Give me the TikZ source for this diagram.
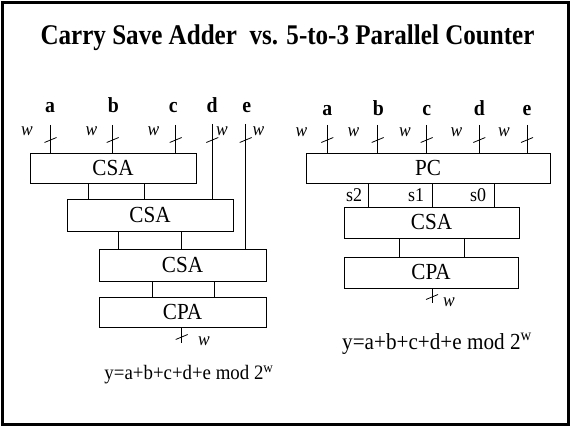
\documentclass[tikz,border=0pt]{standalone}
\usepackage{fontspec}
\setmainfont{Liberation Serif}[FakeStretch=0.92]
\newfontfamily\titlefont{Liberation Serif}[FakeStretch=0.88]
\usetikzlibrary{calc}
\begin{document}
\begin{tikzpicture}[x=1pt,y=-1pt,
  blk/.style={draw,line width=0.8pt,inner sep=0pt,font=\fontsize{23}{23}\selectfont},
  wire/.style={line width=0.8pt},
  lab/.style={font=\bfseries\fontsize{21.5}{21.5}\selectfont,anchor=base,inner sep=0pt},
  wl/.style={font=\itshape\fontsize{19}{19}\selectfont,anchor=base,inner sep=0pt},
  sl/.style={font=\fontsize{19.5}{19.5}\selectfont,anchor=base,inner sep=0pt},
  wtick/.pic={\draw[line width=0.8pt] (-6,2.5) -- (6,-2.5);}]
\useasboundingbox (0,0) rectangle (571,427);
\draw[line width=3pt] (2.5,2.5) rectangle (568.5,424.5);
\node[font=\titlefont\bfseries\fontsize{28.5}{28.5}\selectfont,anchor=base,inner sep=0pt] (title) at (287.5,45) {Carry Save Adder\ \ vs. 5-to-3 Parallel Counter};

% ---------- left: CSA tree ----------
\node[blk,minimum width=166,minimum height=30] (csa1) at (113,168) {CSA};
\node[blk,minimum width=166,minimum height=32] (csa2) at (150,215) {CSA};
\node[blk,minimum width=167,minimum height=32] (csa3) at (182.5,265) {CSA};
\node[blk,minimum width=167,minimum height=30] (cpa1) at (182.5,312) {CPA};

\coordinate (ty) at (0,140);
\coordinate (ia) at (50.5,125);
\coordinate (ib) at (112.7,125);
\coordinate (ic) at (175.7,125);
\coordinate (id) at (212.3,124);
\coordinate (ie) at (245.7,124);
\draw[wire] (ia) -- (ia |- csa1.north);
\draw[wire] (ib) -- (ib |- csa1.north);
\draw[wire] (ic) -- (ic |- csa1.north);
\draw[wire] (id) -- (id |- csa2.north);
\draw[wire] (ie) -- (ie |- csa3.north);
\foreach \p in {ia,ib,ic,id,ie} \path (\p |- ty) pic {wtick};

\node[lab] (la) at (50,113) {a};
\node[lab] (lb) at (113.3,113) {b};
\node[lab] (lc) at (173.3,113) {c};
\node[lab] (ld) at (212,113) {d};
\node[lab] (le) at (246.7,113) {e};
\node[wl] (wa) at (27,136) {w};
\node[wl] (wb) at (91.5,136) {w};
\node[wl] (wc) at (153.5,136) {w};
\node[wl] (wd) at (222,136) {w};
\node[wl] (we) at (258.5,136) {w};

\coordinate (c1) at (88,0);
\coordinate (c2) at (144,0);
\coordinate (c3) at (118,0);
\coordinate (c4) at (181,0);
\coordinate (c5) at (152,0);
\coordinate (c6) at (214,0);
\draw[wire] (csa1.south -| c1) -- (csa2.north -| c1);
\draw[wire] (csa1.south -| c2) -- (csa2.north -| c2);
\draw[wire] (csa2.south -| c3) -- (csa3.north -| c3);
\draw[wire] (csa2.south -| c4) -- (csa3.north -| c4);
\draw[wire] (csa3.south -| c5) -- (cpa1.north -| c5);
\draw[wire] (csa3.south -| c6) -- (cpa1.north -| c6);

\coordinate (yl) at (181.7,343);
\draw[wire] (cpa1.south -| yl) -- (yl);
\path (181.7,337) pic {wtick};
\node[wl] (wyl) at (204,346) {w};
\node[font=\fontsize{20.5}{20.5}\selectfont,anchor=base,inner sep=0pt] (fl) at (189,380) {y=a+b+c+d+e mod 2\textsuperscript{w}};

% ---------- right: parallel counter ----------
\node[blk,minimum width=244,minimum height=30] (pc) at (428,168) {PC};
\node[blk,minimum width=175,minimum height=31] (csa4) at (431.5,222.5) {CSA};
\node[blk,minimum width=174,minimum height=31] (cpa2) at (431,272.5) {CPA};

\coordinate (ra) at (327.3,125);
\coordinate (rb) at (377.7,125);
\coordinate (rc) at (426.7,125);
\coordinate (rd) at (479.3,125);
\coordinate (re) at (527,125);
\foreach \p in {ra,rb,rc,rd,re} {
  \draw[wire] (\p) -- (\p |- pc.north);
  \path (\p |- ty) pic {wtick};
}
\node[lab] (rla) at (327.3,116) {a};
\node[lab] (rlb) at (378.3,116) {b};
\node[lab] (rlc) at (426.7,116) {c};
\node[lab] (rld) at (479.3,116) {d};
\node[lab] (rle) at (527,116) {e};
\node[wl] (rwa) at (301.5,137) {w};
\node[wl] (rwb) at (353.5,137) {w};
\node[wl] (rwc) at (405,137) {w};
\node[wl] (rwd) at (456.5,137) {w};
\node[wl] (rwe) at (504,137) {w};

\coordinate (s2) at (368,0);
\coordinate (s1) at (432,0);
\coordinate (s0) at (494,0);
\draw[wire] (pc.south -| s2) -- (csa4.north -| s2);
\draw[wire] (pc.south -| s1) -- (csa4.north -| s1);
\draw[wire] (pc.south -| s0) -- (csa4.north -| s0);
\node[sl] (ls2) at (354,202) {s2};
\node[sl] (ls1) at (416,202) {s1};
\node[sl] (ls0) at (478,202) {s0};

\coordinate (r1) at (399,0);
\coordinate (r2) at (464,0);
\draw[wire] (csa4.south -| r1) -- (cpa2.north -| r1);
\draw[wire] (csa4.south -| r2) -- (cpa2.north -| r2);

\coordinate (yr) at (432,303);
\draw[wire] (cpa2.south -| yr) -- (yr);
\path (432,297) pic {wtick};
\node[wl] (wyr) at (449,307) {w};
\node[font=\fontsize{23}{23}\selectfont,anchor=base,inner sep=0pt] (fr) at (437,350) {y=a+b+c+d+e mod 2\textsuperscript{w}};
\end{tikzpicture}
\end{document}
